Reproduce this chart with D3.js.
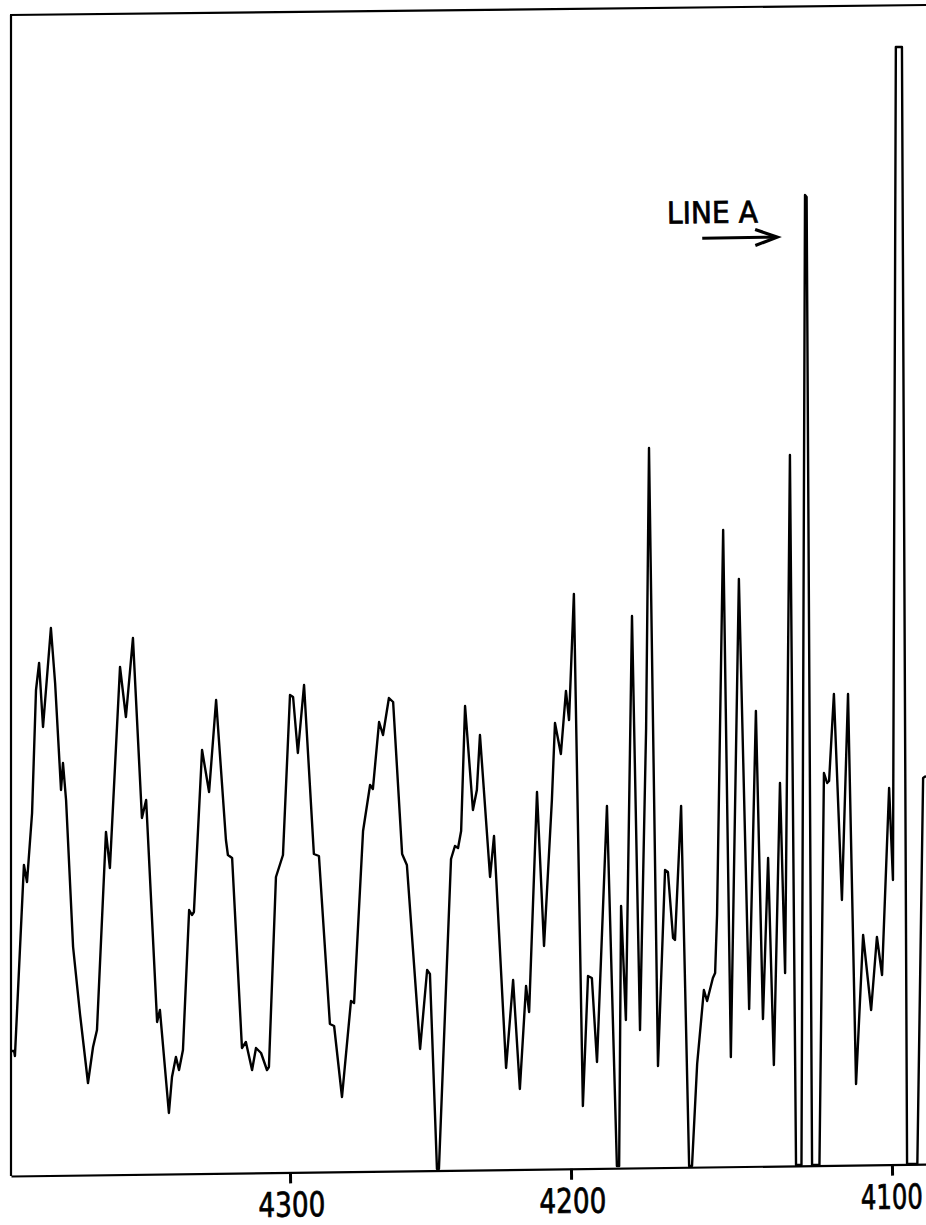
<!DOCTYPE html>
<html>
<head>
<meta charset="utf-8">
<script src="https://cdn.jsdelivr.net/npm/d3@7"></script>
<style>
  html, body { margin: 0; padding: 0; background: #fff; }
  svg { display: block; }
</style>
</head>
<body>
<svg id="chart" width="926" height="1225"></svg>
<script>
// ---- data (wavelength in Å, relative intensity) ----
const wavelength = [
  4399.3, 4398.2, 4397.9, 4394.7, 4393.6, 4391.8, 4390.4, 4389.3, 4387.9, 4385.1,
  4383.6, 4381.5, 4380.8, 4379.7, 4377.2, 4374.7, 4371.9, 4370.1, 4368.7, 4365.5,
  4364.1, 4360.5, 4358.4, 4355.9, 4352.7, 4351.2, 4347.3, 4346.3, 4343.1, 4342.0,
  4340.6, 4339.5, 4338.1, 4335.9, 4334.9, 4334.2, 4331.3, 4328.8, 4326.3, 4322.8,
  4322.1, 4320.6, 4317.1, 4315.7, 4313.5, 4312.1, 4310.3, 4308.2, 4307.5, 4305.0,
  4302.5, 4300.0, 4298.9, 4297.2, 4295.0, 4291.5, 4289.7, 4285.8, 4284.3, 4281.5,
  4278.3, 4277.2, 4274.0, 4271.5, 4270.5, 4268.3, 4266.9, 4264.8, 4263.3, 4260.1,
  4258.4, 4253.7, 4251.2, 4250.2, 4247.7, 4247.0, 4242.7, 4241.3, 4240.2, 4239.1,
  4237.7, 4234.9, 4233.5, 4232.4, 4228.8, 4227.4, 4223.1, 4220.6, 4218.2, 4216.0,
  4214.9, 4212.1, 4209.6, 4206.8, 4205.7, 4203.6, 4201.8, 4200.7, 4199.1, 4196.3,
  4194.7, 4193.5, 4191.9, 4188.8, 4185.7, 4185.0, 4184.4, 4182.9, 4181.0, 4178.5,
  4176.6, 4175.7, 4172.9, 4170.7, 4169.8, 4168.2, 4167.6, 4165.7, 4163.2, 4162.3,
  4160.7, 4158.6, 4157.6, 4155.8, 4155.1, 4154.5, 4152.6, 4150.2, 4147.7, 4144.5,
  4142.4, 4140.2, 4138.6, 4136.8, 4134.9, 4133.3, 4131.8, 4129.9, 4128.2, 4127.1,
  4126.6, 4124.9, 4122.6, 4121.2, 4120.2, 4119.6, 4118.1, 4115.6, 4113.7, 4111.2,
  4109.0, 4106.5, 4104.7, 4103.1, 4100.9, 4099.7, 4098.8, 4096.9, 4095.3, 4092.1,
  4090.3, 4089.4
];
const intensity = [
  11.9, 11.9, 11.4, 30.5, 28.8, 35.7, 48.0, 50.7, 44.3, 54.2,
  48.7, 38.0, 40.7, 37.0, 22.3, 15.5, 8.7, 12.3, 14.0, 33.8,
  30.2, 50.3, 45.3, 53.2, 35.2, 37.0, 14.8, 16.0, 5.7, 9.3,
  11.3, 10.0, 12.0, 26.0, 25.5, 25.8, 42.0, 37.8, 47.0, 33.0,
  31.5, 31.2, 12.2, 12.8, 10.0, 12.2, 11.7, 10.0, 10.3, 29.3,
  31.5, 47.5, 47.3, 41.7, 48.5, 31.6, 31.4, 14.6, 14.4, 7.3,
  16.9, 16.7, 33.9, 38.5, 38.1, 44.8, 43.5, 47.2, 46.8, 31.6,
  30.5, 12.1, 20.0, 19.6, 0.1, 0.1, 31.1, 32.4, 32.2, 33.9,
  46.4, 36.0, 38.0, 43.5, 29.3, 33.4, 10.2, 19.0, 8.1, 18.4,
  15.8, 37.8, 22.4, 37.0, 44.7, 41.6, 47.9, 45.0, 57.6, 6.4,
  19.4, 19.2, 10.8, 36.4, 0.4, 0.4, 26.4, 15.0, 55.4, 14.0,
  44.2, 72.2, 10.4, 30.0, 29.8, 23.2, 23.0, 36.4, 0.4, 0.4,
  10.6, 18.0, 16.9, 19.2, 19.7, 25.5, 64.0, 11.3, 59.1, 16.1,
  45.9, 15.1, 31.2, 10.5, 38.7, 19.7, 71.5, 0.5, 0.5, 97.5,
  97.3, 0.5, 0.5, 39.7, 38.7, 38.9, 47.6, 27.0, 47.6, 8.6,
  23.5, 16.0, 23.3, 19.5, 38.2, 29.0, 112.3, 112.3, 0.6, 0.6,
  39.2, 39.4
];
const tickValues = [4300, 4200, 4100];
const tickLabels = ["4300", "4200", "4100"];
const annotationText = "LINE A";

// ---- scales ----
const svg = d3.select("#chart");
const tilt = -0.74; // scanned page is slightly rotated

// wavelength axis runs right-to-left with slightly non-linear dispersion
const x = d3.scaleLinear()
  .domain([4399.3, 4300, 4200, 4100, 4089.4])
  .range([11, 290, 571, 892, 926]);
const y = d3.scaleLinear()
  .domain([0, 113])
  .range([1170, 40]);

// ---- frame ----
svg.append("line")
  .attr("x1", 11).attr("y1", 1176).attr("x2", 11).attr("y2", 15)
  .attr("stroke", "#000").attr("stroke-width", 2.2);
svg.append("line")
  .attr("x1", 10).attr("y1", 15).attr("x2", 926).attr("y2", 5)
  .attr("stroke", "#000").attr("stroke-width", 2.2);

// ---- bottom axis (slightly rotated like the scan) ----
const axisG = svg.append("g")
  .attr("transform", `translate(0,1176) rotate(${tilt},11,0)`)
  .call(d3.axisBottom(x)
    .tickValues(tickValues)
    .tickFormat((d, i) => tickLabels[i])
    .tickSize(11)
    .tickSizeOuter(0)
    .tickPadding(9));
axisG.select(".domain").attr("stroke", "#000").attr("stroke-width", 2.2);
axisG.selectAll(".tick line").attr("stroke", "#000").attr("stroke-width", 3);
axisG.selectAll(".tick text")
  .attr("fill", "#000")
  .attr("stroke", "#000")
  .attr("stroke-width", 0.7)
  .attr("font-family", "'DejaVu Sans Condensed', 'DejaVu Sans', sans-serif")
  .attr("font-size", 34)
  .attr("x", (d, i) => i === tickValues.length - 1 ? -1 : 1)
  .each(function(d, i) {
    const target = i === tickValues.length - 1 ? 62 : 67;
    const natural = this.getComputedTextLength();
    const sx = target / natural;
    const tx = +this.getAttribute("x");
    this.setAttribute("transform", `translate(${tx},0) scale(${sx},1) translate(${-tx},0)`);
  });

// ---- spectrum trace ----
const pts = wavelength.map((w, i) => [w, intensity[i]]);
const line = d3.line()
  .x(d => x(d[0]))
  .y(d => y(d[1]))
  .curve(d3.curveLinear);
svg.append("path")
  .datum(pts)
  .attr("d", line)
  .attr("fill", "none")
  .attr("stroke", "#000")
  .attr("stroke-width", 2.4)
  .attr("stroke-linejoin", "round");

// ---- annotation ----
const ann = svg.append("g").attr("transform", `rotate(${tilt},712,220)`);
ann.append("text")
  .attr("x", 667).attr("y", 223)
  .attr("font-family", "'DejaVu Sans Condensed', 'DejaVu Sans', sans-serif")
  .attr("font-size", 30)
  .attr("textLength", 91)
  .attr("lengthAdjust", "spacingAndGlyphs")
  .attr("fill", "#000")
  .attr("stroke", "#000")
  .attr("stroke-width", 0.7)
  .text(annotationText);
ann.append("line")
  .attr("x1", 702).attr("y1", 238).attr("x2", 775).attr("y2", 238)
  .attr("stroke", "#000").attr("stroke-width", 3);
ann.append("polyline")
  .attr("points", "755,230 777,238 755,246")
  .attr("fill", "none").attr("stroke", "#000").attr("stroke-width", 3.2)
  .attr("stroke-linejoin", "miter");
</script>
</body>
</html>
